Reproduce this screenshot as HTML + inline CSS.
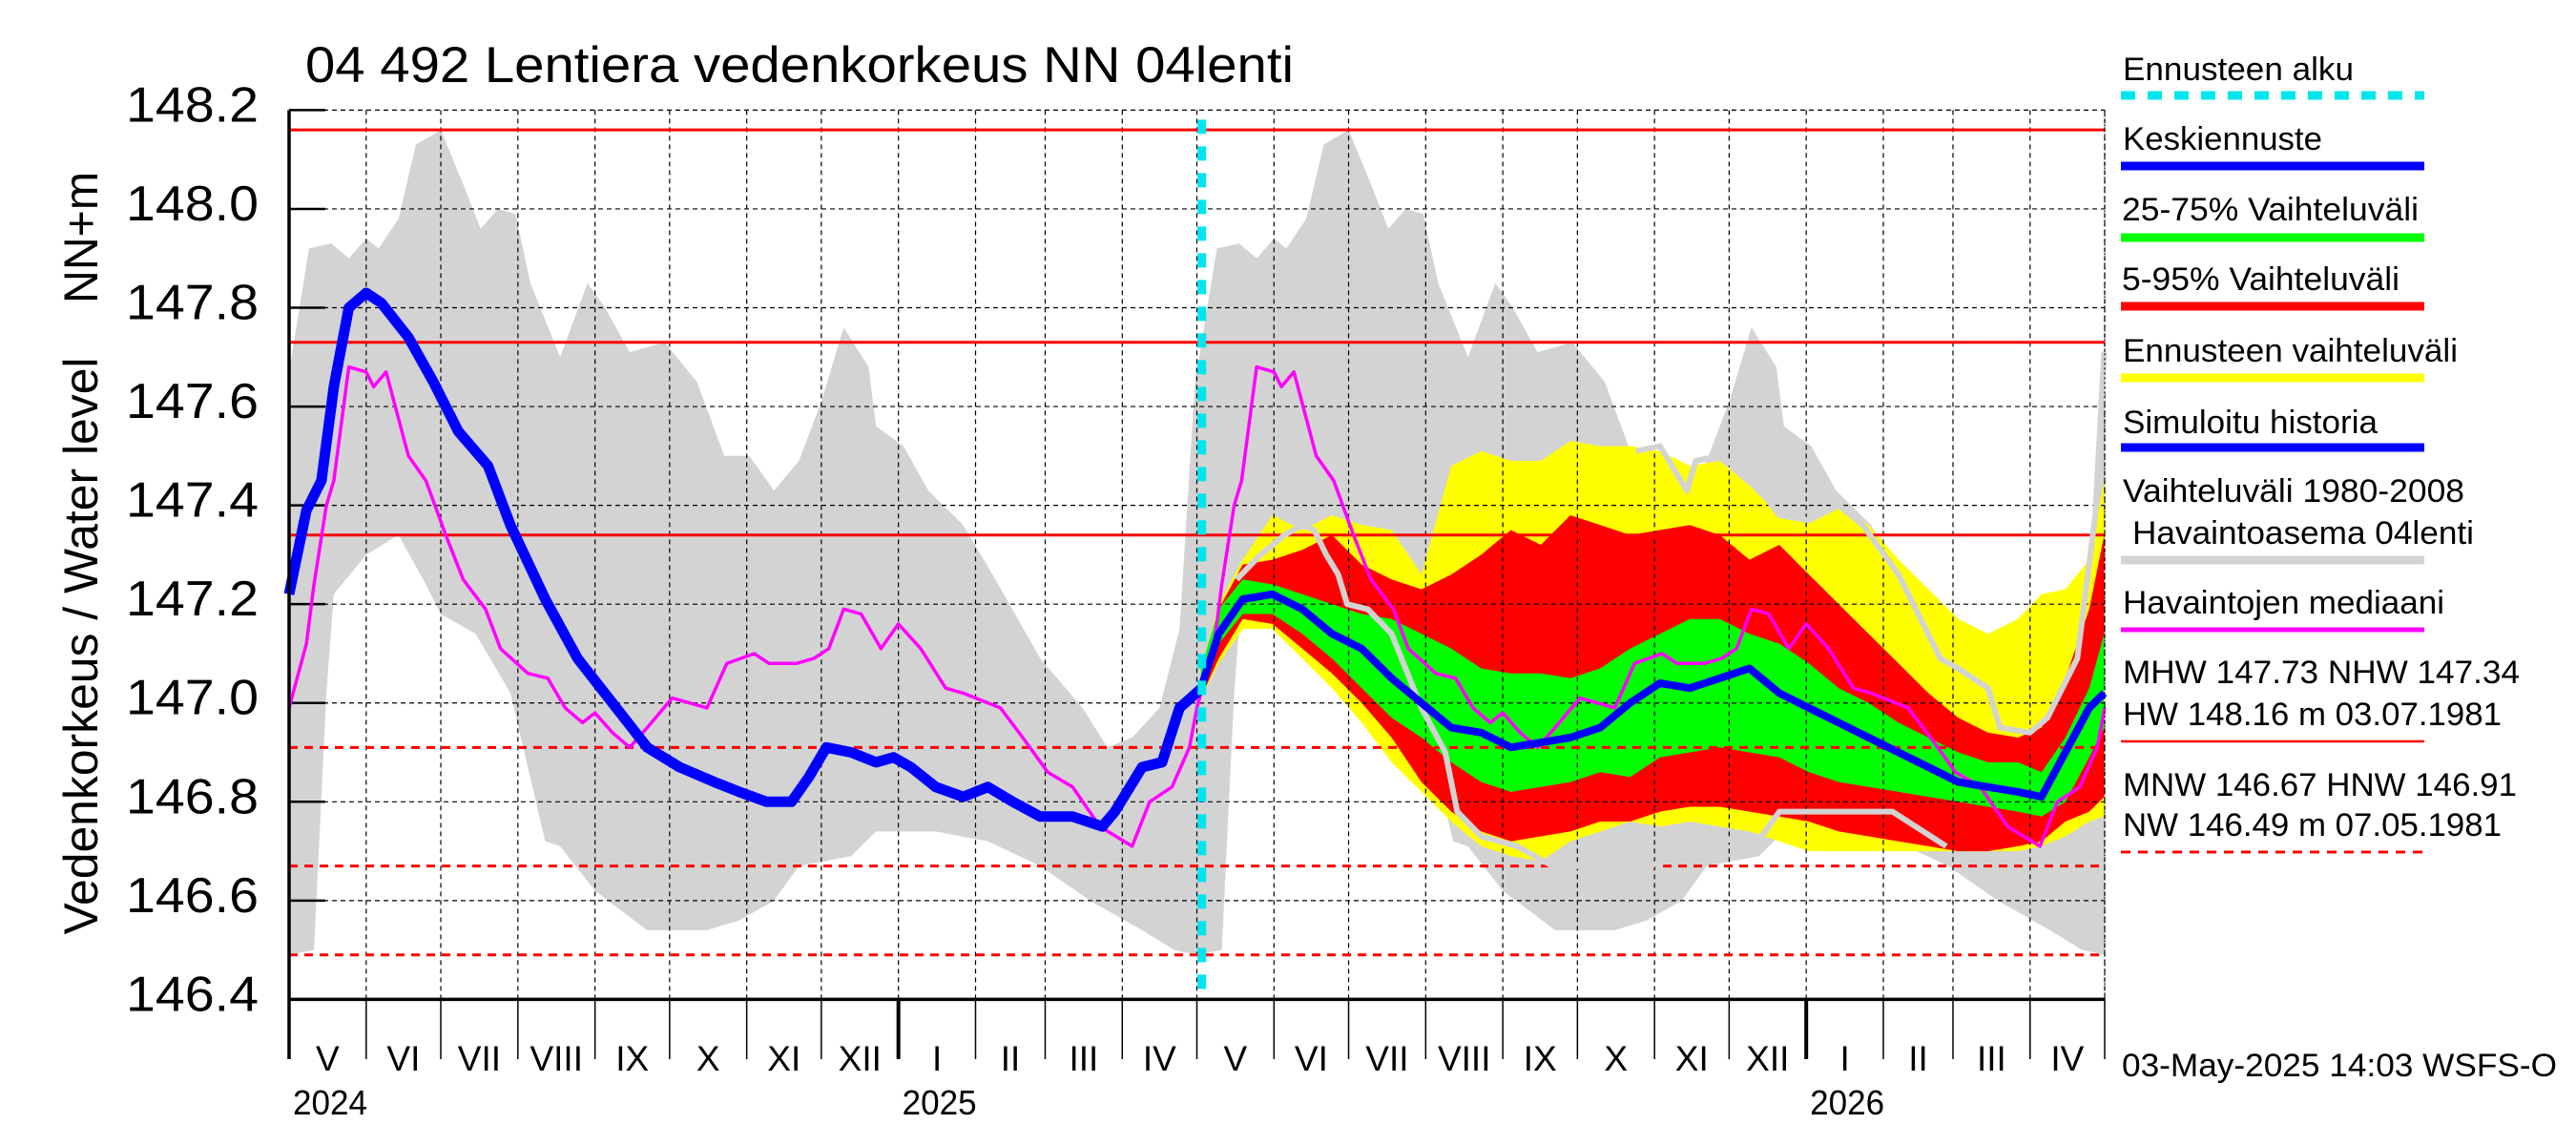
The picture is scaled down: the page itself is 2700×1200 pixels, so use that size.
<!DOCTYPE html>
<html><head><meta charset="utf-8"><style>
html,body{margin:0;padding:0;background:#fff;}
svg{display:block;font-family:"Liberation Sans",Arial,sans-serif;}
</style></head><body>
<svg id="chart" width="2700" height="1200" viewBox="0 0 2700 1200" xmlns="http://www.w3.org/2000/svg">
<rect x="0" y="0" width="2700" height="1200" fill="#fff"/>
<text x="320" y="86" font-size="53" textLength="1036" lengthAdjust="spacingAndGlyphs">04 492 Lentiera vedenkorkeus NN 04lenti</text>
<text transform="translate(102,677) rotate(-90)" text-anchor="middle" font-size="50" textLength="605" lengthAdjust="spacingAndGlyphs">Vedenkorkeus / Water level</text>
<text transform="translate(102,249) rotate(-90)" text-anchor="middle" font-size="50" textLength="138" lengthAdjust="spacingAndGlyphs">NN+m</text>
<g id="plot"></g>
<g id="legend" font-size="34">
 <g>
  <text x="2225" y="84" textLength="242" lengthAdjust="spacingAndGlyphs">Ennusteen alku</text>
  <line x1="2223" y1="100" x2="2541" y2="100" stroke="#00e5ee" stroke-width="9" stroke-dasharray="15,13"/>
 </g>
 <g>
  <text x="2225" y="157" textLength="209" lengthAdjust="spacingAndGlyphs">Keskiennuste</text>
  <line x1="2223" y1="174" x2="2541" y2="174" stroke="#0000ff" stroke-width="9"/>
 </g>
 <g>
  <text x="2224" y="231" textLength="311" lengthAdjust="spacingAndGlyphs">25-75% Vaihteluväli</text>
  <line x1="2223" y1="249" x2="2541" y2="249" stroke="#00ff00" stroke-width="9"/>
 </g>
 <g>
  <text x="2224" y="304" textLength="291" lengthAdjust="spacingAndGlyphs">5-95% Vaihteluväli</text>
  <line x1="2223" y1="321" x2="2541" y2="321" stroke="#ff0000" stroke-width="9"/>
 </g>
 <g>
  <text x="2225" y="379" textLength="351" lengthAdjust="spacingAndGlyphs">Ennusteen vaihteluväli</text>
  <line x1="2223" y1="396" x2="2541" y2="396" stroke="#ffff00" stroke-width="9"/>
 </g>
 <g>
  <text x="2225" y="454" textLength="267" lengthAdjust="spacingAndGlyphs">Simuloitu historia</text>
  <line x1="2223" y1="469" x2="2541" y2="469" stroke="#0000ff" stroke-width="9"/>
 </g>
 <g>
  <text x="2225" y="526" textLength="358" lengthAdjust="spacingAndGlyphs">Vaihteluväli 1980-2008</text>
  <text x="2235" y="570" textLength="358" lengthAdjust="spacingAndGlyphs">Havaintoasema 04lenti</text>
  <line x1="2223" y1="587" x2="2541" y2="587" stroke="#d3d3d3" stroke-width="9"/>
 </g>
 <g>
  <text x="2225" y="643" textLength="337" lengthAdjust="spacingAndGlyphs">Havaintojen mediaani</text>
  <line x1="2223" y1="660" x2="2541" y2="660" stroke="#ff00ff" stroke-width="5"/>
 </g>
 <g>
  <text x="2225" y="716" textLength="416" lengthAdjust="spacingAndGlyphs">MHW 147.73 NHW 147.34</text>
  <text x="2225" y="760" textLength="397" lengthAdjust="spacingAndGlyphs">HW 148.16 m 03.07.1981</text>
  <line x1="2223" y1="777" x2="2541" y2="777" stroke="#ff0000" stroke-width="2.5"/>
 </g>
 <g>
  <text x="2225" y="834" textLength="413" lengthAdjust="spacingAndGlyphs">MNW 146.67 HNW 146.91</text>
  <text x="2225" y="876" textLength="397" lengthAdjust="spacingAndGlyphs">NW 146.49 m 07.05.1981</text>
  <line x1="2223" y1="893" x2="2541" y2="893" stroke="#ff0000" stroke-width="3" stroke-dasharray="10,8"/>
 </g>
</g>
<text x="2224" y="1128" font-size="34" textLength="456" lengthAdjust="spacingAndGlyphs">03-May-2025 14:03 WSFS-O</text>
</svg>
<script>
// ---- data (days since 1 May 2024, water level m) ----
const climUpDays = [0,8,17,24,31,36,44,51,61,70,77,84,91,97,109,120,127,137,151,164,175,185,195,205,214,223,233,236,247,257,271,284,302,319,329,339,350,358,365];
const climUp = [147.67,147.92,147.93,147.90,147.94,147.92,147.98,148.13,148.16,148.05,147.96,148.00,147.99,147.85,147.70,147.85,147.80,147.71,147.73,147.65,147.50,147.50,147.43,147.49,147.61,147.76,147.68,147.56,147.52,147.43,147.36,147.25,147.09,146.99,146.91,146.93,146.99,147.15,147.71];
const climLoDays = [0,10,15,18,31,44,55,61,75,89,103,109,123,144,154,168,181,195,205,226,236,260,281,302,322,343,356,365];
const climLo = [146.49,146.50,147.02,147.22,147.30,147.34,147.24,147.18,147.14,147.02,146.72,146.71,146.62,146.54,146.54,146.54,146.56,146.60,146.67,146.69,146.74,146.74,146.72,146.67,146.60,146.54,146.50,146.49];
const medDays = [0,7,10,15,18,24,31,34,39,48,55,63,70,79,85,96,104,111,118,123,130,137,144,154,161,168,176,187,193,204,211,217,223,230,238,245,254,264,271,286,295,305,315,326,339,346,355,362,365];
const med = [146.99,147.12,147.24,147.40,147.45,147.68,147.67,147.64,147.67,147.50,147.45,147.34,147.25,147.19,147.11,147.06,147.05,146.99,146.96,146.98,146.94,146.91,146.95,147.01,147.00,146.99,147.08,147.10,147.08,147.08,147.09,147.11,147.19,147.18,147.11,147.16,147.11,147.03,147.02,146.99,146.93,146.86,146.83,146.75,146.71,146.80,146.83,146.91,146.99];
const histDays = [0,7,13,18,24,31,37,48,58,68,80,89,103,116,130,144,157,171,181,192,202,209,216,226,236,243,250,260,271,281,291,302,315,327,332,343,351,358,367];
const hist = [147.22,147.39,147.45,147.64,147.80,147.83,147.81,147.74,147.65,147.55,147.48,147.36,147.21,147.09,147.00,146.91,146.87,146.84,146.82,146.80,146.80,146.85,146.91,146.90,146.88,146.89,146.87,146.83,146.81,146.83,146.80,146.77,146.77,146.75,146.78,146.87,146.88,146.99,147.03];
const fcDays = [366.6,373.8,383.4,395.4,407.4,419.3,431.3,443.3,455.3,467.3,479.3,491.3,503.3,515.2,527.2,539.2,551.2,563.2,575.2,587.2,599.2,611.1,623.1,635.1,647.1,659.1,671.1,683.1,695.1,704.6,714.2,723.8,729.8];
const fcMean = [147.03,147.14,147.21,147.22,147.19,147.14,147.11,147.05,147.00,146.95,146.94,146.91,146.92,146.93,146.95,147.00,147.04,147.03,147.05,147.07,147.02,146.99,146.96,146.93,146.90,146.87,146.84,146.83,146.82,146.81,146.90,146.99,147.02];
const p75 = [147.07,147.19,147.25,147.24,147.22,147.20,147.18,147.17,147.14,147.11,147.07,147.06,147.06,147.05,147.07,147.11,147.14,147.17,147.17,147.14,147.12,147.08,147.03,147.00,146.96,146.93,146.90,146.88,146.88,146.86,146.93,147.03,147.14];
const p25 = [147.02,147.12,147.18,147.18,147.14,147.09,147.03,146.97,146.93,146.88,146.84,146.82,146.83,146.84,146.86,146.85,146.89,146.90,146.91,146.90,146.89,146.86,146.84,146.83,146.82,146.81,146.80,146.79,146.78,146.77,146.80,146.89,146.95];
const p95 = [147.05,147.19,147.28,147.29,147.31,147.34,147.28,147.25,147.23,147.26,147.30,147.35,147.32,147.38,147.36,147.34,147.35,147.36,147.34,147.29,147.32,147.26,147.20,147.14,147.08,147.02,146.97,146.94,146.93,146.95,147.05,147.19,147.34];
const p05 = [147.01,147.09,147.17,147.16,147.11,147.06,147.00,146.93,146.84,146.78,146.74,146.72,146.73,146.74,146.76,146.76,146.78,146.79,146.79,146.78,146.77,146.76,146.74,146.73,146.72,146.71,146.70,146.70,146.71,146.72,146.76,146.78,146.81];
const fcMax = [147.06,147.20,147.29,147.38,147.35,147.38,147.36,147.35,147.26,147.48,147.51,147.49,147.49,147.53,147.52,147.52,147.51,147.48,147.49,147.44,147.38,147.37,147.40,147.36,147.29,147.23,147.17,147.14,147.17,147.22,147.23,147.29,147.45];
const fcMin = [147.01,147.08,147.15,147.15,147.09,147.03,146.96,146.88,146.82,146.76,146.71,146.69,146.68,146.72,146.74,146.76,146.75,146.76,146.75,146.74,146.72,146.70,146.70,146.70,146.70,146.70,146.70,146.70,146.70,146.71,146.73,146.76,146.77];
const obsADays = [381.0,390.6,400.2,407.4,412.2,417.0,421.8,425.4,433.7,443.3,455.3,464.9,469.7,479.3,493.7,508.0,527.2,546.4,568.0,572.8,592.0,599.2,644.7,666.3];
const obsA = [147.25,147.30,147.34,147.36,147.35,147.30,147.26,147.20,147.19,147.14,146.99,146.90,146.78,146.73,146.71,146.67,146.67,146.67,146.70,146.72,146.73,146.78,146.78,146.71];
const obsBDays = [541.6,551.2,558.4,562.0,565.6,575.2,587.2,599.2,611.1,623.1,632.7,647.1,663.9,671.1,683.1,687.9,699.9,707.0,719.0,726.2,729.8];
const obsB = [147.51,147.52,147.46,147.43,147.49,147.50,147.46,147.38,147.37,147.40,147.36,147.26,147.09,147.07,147.03,146.95,146.94,146.97,147.09,147.38,147.71];
const refSolid = [148.16,147.73,147.34];
const refDashed = [146.91,146.67,146.49];
const yTicks = ["146.4","146.6","146.8","147.0","147.2","147.4","147.6","147.8","148.0","148.2"];
const monthNames = ["I","II","III","IV","V","VI","VII","VIII","IX","X","XI","XII"];
const forecastStartDay = 367;

// ---- axes ----
const X0 = 303, X1 = 2206, NDAYS = 730, YTOP = 115.4, YBOT = 1047.4, VMIN = 146.4, VMAX = 148.2;
function xs(d){ return X0 + d*(X1-X0)/NDAYS; }
function ys(v){ return YTOP + (VMAX - v)*(YBOT-YTOP)/(VMAX-VMIN); }
const NS = "http://www.w3.org/2000/svg";
const plot = document.getElementById('plot');
function mk(tag, attrs, parent){ const e = document.createElementNS(NS, tag); for (const k in attrs) e.setAttribute(k, attrs[k]); (parent||plot).appendChild(e); return e; }
function pts(days, vals, off){ return days.map((d,i)=>xs(d+off).toFixed(1)+','+ys(vals[i]).toFixed(1)).join(' '); }
function band(dU, vU, dL, vL, off){
  const a = dU.map((d,i)=>xs(d+off).toFixed(1)+','+ys(vU[i]).toFixed(1));
  const b = dL.map((d,i)=>xs(d+off).toFixed(1)+','+ys(vL[i]).toFixed(1)).reverse();
  return a.concat(b).join(' ');
}

// historical gray band, both years
for (const off of [0,365]) {
  const el = mk('polygon', {points: band(climUpDays, climUp, climLoDays, climLo, off), fill:'#d3d3d3'});
  
  
}
// forecast bands
let el;
el = mk('polygon', {points: band(fcDays, fcMax, fcDays, fcMin, 0), fill:'#ffff00'});


el = mk('polygon', {points: band(fcDays, p95, fcDays, p05, 0), fill:'#ff0000'});


el = mk('polygon', {points: band(fcDays, p75, fcDays, p25, 0), fill:'#00ff00'});



// grid
yTicks.forEach(t => {
  const y = ys(parseFloat(t));
  const g = mk('line', {x1:X0, y1:y, x2:X1, y2:y, stroke:'#000', 'stroke-width':1.2, 'stroke-dasharray':'5,4'});
  
  
  const tk = mk('line', {x1:X0, y1:y, x2:X0+38, y2:y, stroke:'#000', 'stroke-width':2.5});
  
  
  const lb = mk('text', {x:271, y:y+12, 'text-anchor':'end', 'font-size':52, textLength:139, lengthAdjust:'spacingAndGlyphs'});
  lb.textContent = t;
  
  
});
// months
const start = Date.UTC(2024,4,1);
const bounds = [];
for (let i=0;i<=24;i++){ const dt = new Date(Date.UTC(2024,4+i,1)); bounds.push({d:(dt-start)/86400000, m:dt.getUTCMonth(), yr:dt.getUTCFullYear()}); }
bounds.forEach((b,i) => {
  const x = xs(b.d);
  if (i>0) {
    const g = mk('line', {x1:x, y1:YTOP, x2:x, y2:YBOT, stroke:'#000', 'stroke-width':1.2, 'stroke-dasharray':'5,4'});
    
    
  }
  const isYear = b.m===0;
  const tk = mk('line', {x1:x, y1:YBOT, x2:x, y2:1110, stroke:'#000', 'stroke-width': isYear?4:1.5});
  
  
  if (i<24) {
    const xm = (x + xs(bounds[i+1].d))/2;
    const lb = mk('text', {x:xm, y:1122, 'text-anchor':'middle', 'font-size':37});
    lb.textContent = monthNames[b.m];
    
    
  }
  if (i===0 || (isYear && i<24)) {
    const yl = mk('text', {x:x+4, y:1168, 'font-size':36, textLength:78, lengthAdjust:'spacingAndGlyphs'});
    yl.textContent = String(b.yr);
    
    
  }
});
// reference lines
refSolid.forEach(v => {
  const r = mk('line', {x1:X0, y1:ys(v), x2:X1, y2:ys(v), stroke:'#ff0000', 'stroke-width':3});
  
  
});
refDashed.forEach(v => {
  const r = mk('line', {x1:X0, y1:ys(v), x2:X1, y2:ys(v), stroke:'#ff0000', 'stroke-width':3, 'stroke-dasharray':'9,7'});
  
  
});
// observation station gray lines
el = mk('polyline', {points: pts(obsADays, obsA, 0), fill:'none', stroke:'#d3d3d3', 'stroke-width':6, 'stroke-linejoin':'round'});


el = mk('polyline', {points: pts(obsBDays, obsB, 0), fill:'none', stroke:'#d3d3d3', 'stroke-width':6, 'stroke-linejoin':'round'});


// median
for (const off of [0,365]) {
  const m = mk('polyline', {points: pts(medDays, med, off), fill:'none', stroke:'#ff00ff', 'stroke-width':3.5, 'stroke-linejoin':'round'});
  
  
}
// simulated history & forecast mean
el = mk('polyline', {points: pts(histDays, hist, 0), fill:'none', stroke:'#0000ff', 'stroke-width':11, 'stroke-linejoin':'round'});


el = mk('polyline', {points: pts(fcDays, fcMean, 0), fill:'none', stroke:'#0000ff', 'stroke-width':8, 'stroke-linejoin':'round'});


// forecast start
el = mk('line', {x1:xs(forecastStartDay), y1:YTOP+10, x2:xs(forecastStartDay), y2:YBOT, stroke:'#00e5ee', 'stroke-width':9, 'stroke-dasharray':'15,13'});


// axes
el = mk('line', {x1:X0, y1:YTOP, x2:X0, y2:1110, stroke:'#000', 'stroke-width':3.5});


el = mk('line', {x1:X0, y1:YBOT, x2:X1, y2:YBOT, stroke:'#000', 'stroke-width':3.5});


el = mk('line', {x1:X1, y1:YTOP, x2:X1, y2:YBOT, stroke:'#000', 'stroke-width':1.2, 'stroke-dasharray':'2,3'});


</script>
</body></html>
